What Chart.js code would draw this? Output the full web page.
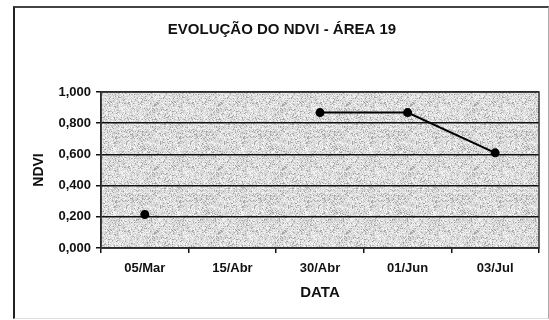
<!DOCTYPE html>
<html>
<head>
<meta charset="utf-8">
<script src="https://cdn.jsdelivr.net/npm/chart.js@4"></script>
<style>
  html, body { margin: 0; padding: 0; background: #fff; }
  #wrap { position: relative; width: 549px; height: 320px; overflow: hidden; }
  #frame { position: absolute; left: 13px; top: 6px; width: 533px; height: 310px;
           border-left: 2px solid #222; border-top: 2px solid #444; border-right: 1px solid #aaa; border-bottom: 1px solid #ddd; }
  canvas { position: absolute; left: 0; top: 0; }
</style>
</head>
<body>
<div id="wrap">
  <div id="frame"></div>
  <canvas id="c" width="549" height="320"></canvas>
</div>
<script>
const categories = ['05/Mar', '15/Abr', '30/Abr', '01/Jun', '03/Jul'];
const ndviValues = [0.215, null, 0.868, 0.868, 0.61];
const yTicks = [0, 0.2, 0.4, 0.6, 0.8, 1.0];
const chartTitle = 'EVOLUÇÃO DO NDVI - ÁREA 19';
const xTitle = 'DATA';
const yTitle = 'NDVI';

const FONT = "'Liberation Sans', Arial, sans-serif";

function makeSpeckle() {
  const s = 64;
  const c = document.createElement('canvas');
  c.width = s; c.height = s;
  const g = c.getContext('2d');
  const img = g.createImageData(s, s);
  let h = 12345;
  for (let i = 0; i < s * s; i++) {
    h = (h * 1103515245 + 12345) & 0x7fffffff;
    const r = (h >> 8) % 100;
    let v = 222;
    if (r < 10) v = 165; else if (r < 30) v = 200; else if (r > 78) v = 244;
    img.data[i*4] = v; img.data[i*4+1] = v; img.data[i*4+2] = v; img.data[i*4+3] = 255;
  }
  g.putImageData(img, 0, 0);
  return c;
}

const bgPlugin = {
  id: 'plotBg',
  beforeDraw(chart) {
    const {ctx, chartArea: a} = chart;
    ctx.save();
    ctx.fillStyle = ctx.createPattern(makeSpeckle(), 'repeat');
    ctx.fillRect(a.left, a.top, a.right - a.left, a.bottom - a.top);
    ctx.restore();
  },
  afterDatasetsDraw(chart) {
    const {ctx, chartArea: a} = chart;
    ctx.save();
    ctx.strokeStyle = '#333';
    ctx.lineWidth = 1.5;
    ctx.strokeRect(a.left, a.top, a.right - a.left, a.bottom - a.top);
    ctx.restore();
  }
};

new Chart(document.getElementById('c'), {
  type: 'line',
  data: {
    labels: categories,
    datasets: [{
      data: ndviValues,
      borderColor: '#000',
      backgroundColor: '#000',
      borderWidth: 2,
      pointRadius: 3.5,
      pointBackgroundColor: '#000',
      pointBorderColor: '#000',
      spanGaps: false,
      tension: 0
    }]
  },
  options: {
    responsive: false,
    animation: false,
    devicePixelRatio: 1,
    layout: { padding: { left: 25, right: 10, top: 0, bottom: 0 } },
    plugins: {
      legend: { display: false },
      tooltip: { enabled: false },
      title: {
        display: true,
        text: chartTitle,
        color: '#111',
        font: { family: FONT, size: 15, weight: 'bold', lineHeight: 1.2 },
        padding: { top: 21, bottom: 53 }
      }
    },
    scales: {
      x: {
        type: 'category',
        offset: true,
        afterFit(scale) { scale.height = 72; },
        grid: { display: true, drawOnChartArea: false, drawTicks: true, tickLength: 5, color: '#111', lineWidth: 1.5, offset: true },
        border: { display: true, color: '#111', width: 1.5 },
        ticks: { color: '#111', font: { family: FONT, size: 13, weight: 'bold' }, padding: 8, maxRotation: 0 },
        title: { display: true, text: xTitle, color: '#111', font: { family: FONT, size: 15, weight: 'bold', lineHeight: 1.2 }, padding: { top: 0, bottom: 18 } }
      },
      y: {
        min: 0, max: 1,
        afterFit(scale) { scale.width = 76; },
        afterBuildTicks(scale) { scale.ticks = yTicks.map(v => ({ value: v })); },
        grid: { color: '#111', lineWidth: 1.5, tickLength: 5, drawTicks: true },
        border: { display: true, color: '#111', width: 1.5 },
        ticks: {
          color: '#111',
          font: { family: FONT, size: 13, weight: 'bold' },
          padding: 5,
          callback: (v) => Number(v).toFixed(3).replace('.', ',')
        },
        title: { display: true, text: yTitle, color: '#111', font: { family: FONT, size: 14, weight: 'bold', lineHeight: 1.2 }, padding: { top: 5.6, bottom: 0 } }
      }
    }
  },
  plugins: [bgPlugin]
});
</script>
</body>
</html>
